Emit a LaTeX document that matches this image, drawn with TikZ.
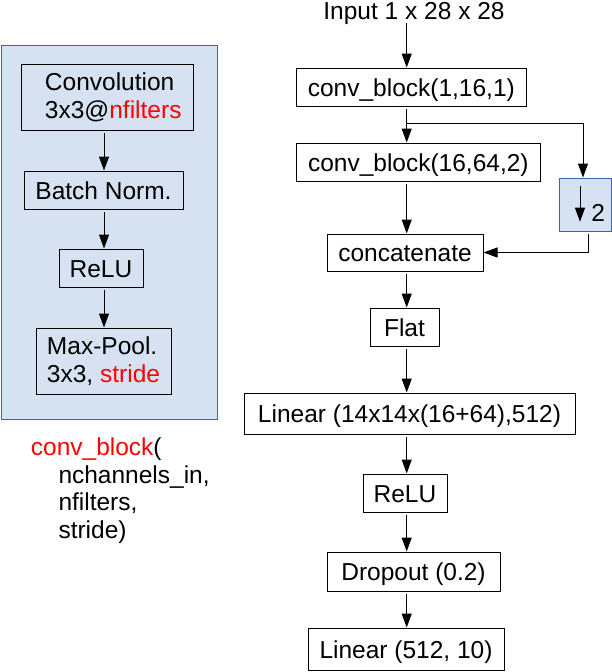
\documentclass[tikz,border=0pt]{standalone}
\usepackage{fontspec}
\setmainfont{Liberation Sans}
\usetikzlibrary{arrows.meta,positioning}
\definecolor{panelfill}{RGB}{214,226,241}
\definecolor{panelline}{RGB}{58,104,166}

\begin{document}
\begin{tikzpicture}[x=1pt, y=-1pt,
    every node/.style={font=\fontsize{24.5}{28.3}\selectfont},
    blk/.style={draw, line width=1pt, minimum height=38pt, text height=18pt, text depth=0pt, inner sep=3pt},
    twoline/.style={draw, line width=1pt, minimum height=66pt, align=left, inner sep=3pt},
    panel/.style={draw=panelline, fill=panelfill, line width=1pt},
    arr/.style={line width=1pt, shorten <=2pt, -{Triangle[length=14pt,width=10pt]}},
    node distance = 36pt]
          \useasboundingbox (0,0) rectangle (612,672);
          \coordinate (spine)  at (406.7,0);
          \coordinate (lspine) at (104,0);
          \coordinate (split)  at (406.7,123);
          \node[panel, minimum width=216pt, minimum height=374pt] (cb) at (109,232) {};
          \node[twoline, minimum width=172pt] (lconv) at (107,97) {\hspace*{12.5pt}Convolution\\\hspace*{12.5pt}3x3@\textcolor{red}{nfilters}};
          \node[blk, minimum width=159pt] (lbn)   [below=40pt of lconv, xshift=-3.5pt] {Batch Norm.};
          \node[blk, minimum width=84pt]  (lrelu) [below=39pt of lbn, xshift=-2.5pt]   {ReLU};
          \node[twoline, minimum width=135pt] (lpool) [below=40pt of lrelu, xshift=2.5pt] {Max-Pool.\\3x3, \textcolor{red}{stride}};
          \node[anchor=north west, align=left, inner sep=0pt, font=\fontsize{24.5}{27.5}\selectfont] (sig) at (30.7,437.6)
            {\textcolor{red}{conv\_block}(\\\hspace*{27.6pt}nchannels\_in,\\\hspace*{27.6pt}nfilters,\\\hspace*{27.6pt}stride)};
          \node[anchor=base, inner sep=2pt, text depth=0pt] (in) at (414,19) {Input 1 x 28 x 28};
          \node[blk, minimum width=229.3pt] (conv1) at (411.35,87) {conv\_block(1,16,1)};
          \node[blk, minimum width=243.3pt] (conv2)  [below=of conv1, xshift=7pt]         {conv\_block(16,64,2)};
          \node[blk, minimum width=156pt, minimum height=37pt] (concat) [below=52pt of conv2, xshift=-13.35pt] {concatenate};
          \node[blk, minimum width=69pt]    (flat)   [below=of concat, xshift=-0.5pt]      {Flat};
          \node[blk, minimum width=331pt, minimum height=41pt] (lin1) [below=46pt of flat, xshift=5pt] {Linear (14x14x(16+64),512)};
          \node[blk, minimum width=84pt]    (relu)   [below=39pt of lin1, xshift=-4.5pt]   {ReLU};
          \node[blk, minimum width=173pt, minimum height=39pt] (drop) [below=39pt of relu, xshift=8.5pt] {Dropout (0.2)};
          \node[blk, minimum width=196pt, minimum height=42pt] (lin2) [below=of drop, xshift=-7.5pt] {Linear (512, 10)};
          \node[panel, minimum width=52pt, minimum height=53pt, text width=40pt, align=right, text height=34pt, text depth=0pt, inner sep=3pt] (pool) at (585,204.5) {2};
          \path[arr]
            (in.south -| spine)      edge (conv1.north -| spine)
            (conv1.south -| spine)   edge (conv2.north -| spine)
            (conv2.south -| spine)   edge (concat.north -| spine)
            (concat.south -| spine)  edge (flat.north -| spine)
            (flat.south -| spine)    edge (lin1.north -| spine)
            (lin1.south -| spine)    edge (relu.north -| spine)
            (relu.south -| spine)    edge (drop.north -| spine)
            (drop.south -| spine)    edge (lin2.north -| spine)
            (lconv.south -| lspine)  edge (lbn.north -| lspine)
            (lbn.south -| lspine)    edge (lrelu.north -| lspine)
            (lrelu.south -| lspine)  edge (lpool.north -| lspine)
            ;
          \draw[arr, shorten <=0pt] (split) -| ([xshift=-2pt]pool.north);
          \draw[arr] ([xshift=3pt]pool.south) |- (concat.east);
          \draw[arr, shorten <=0pt] ([shift={(-5pt,18.5pt)}]pool.center) -- ([shift={(-5pt,-17.2pt)}]pool.center);
        \end{tikzpicture}
\end{document}
